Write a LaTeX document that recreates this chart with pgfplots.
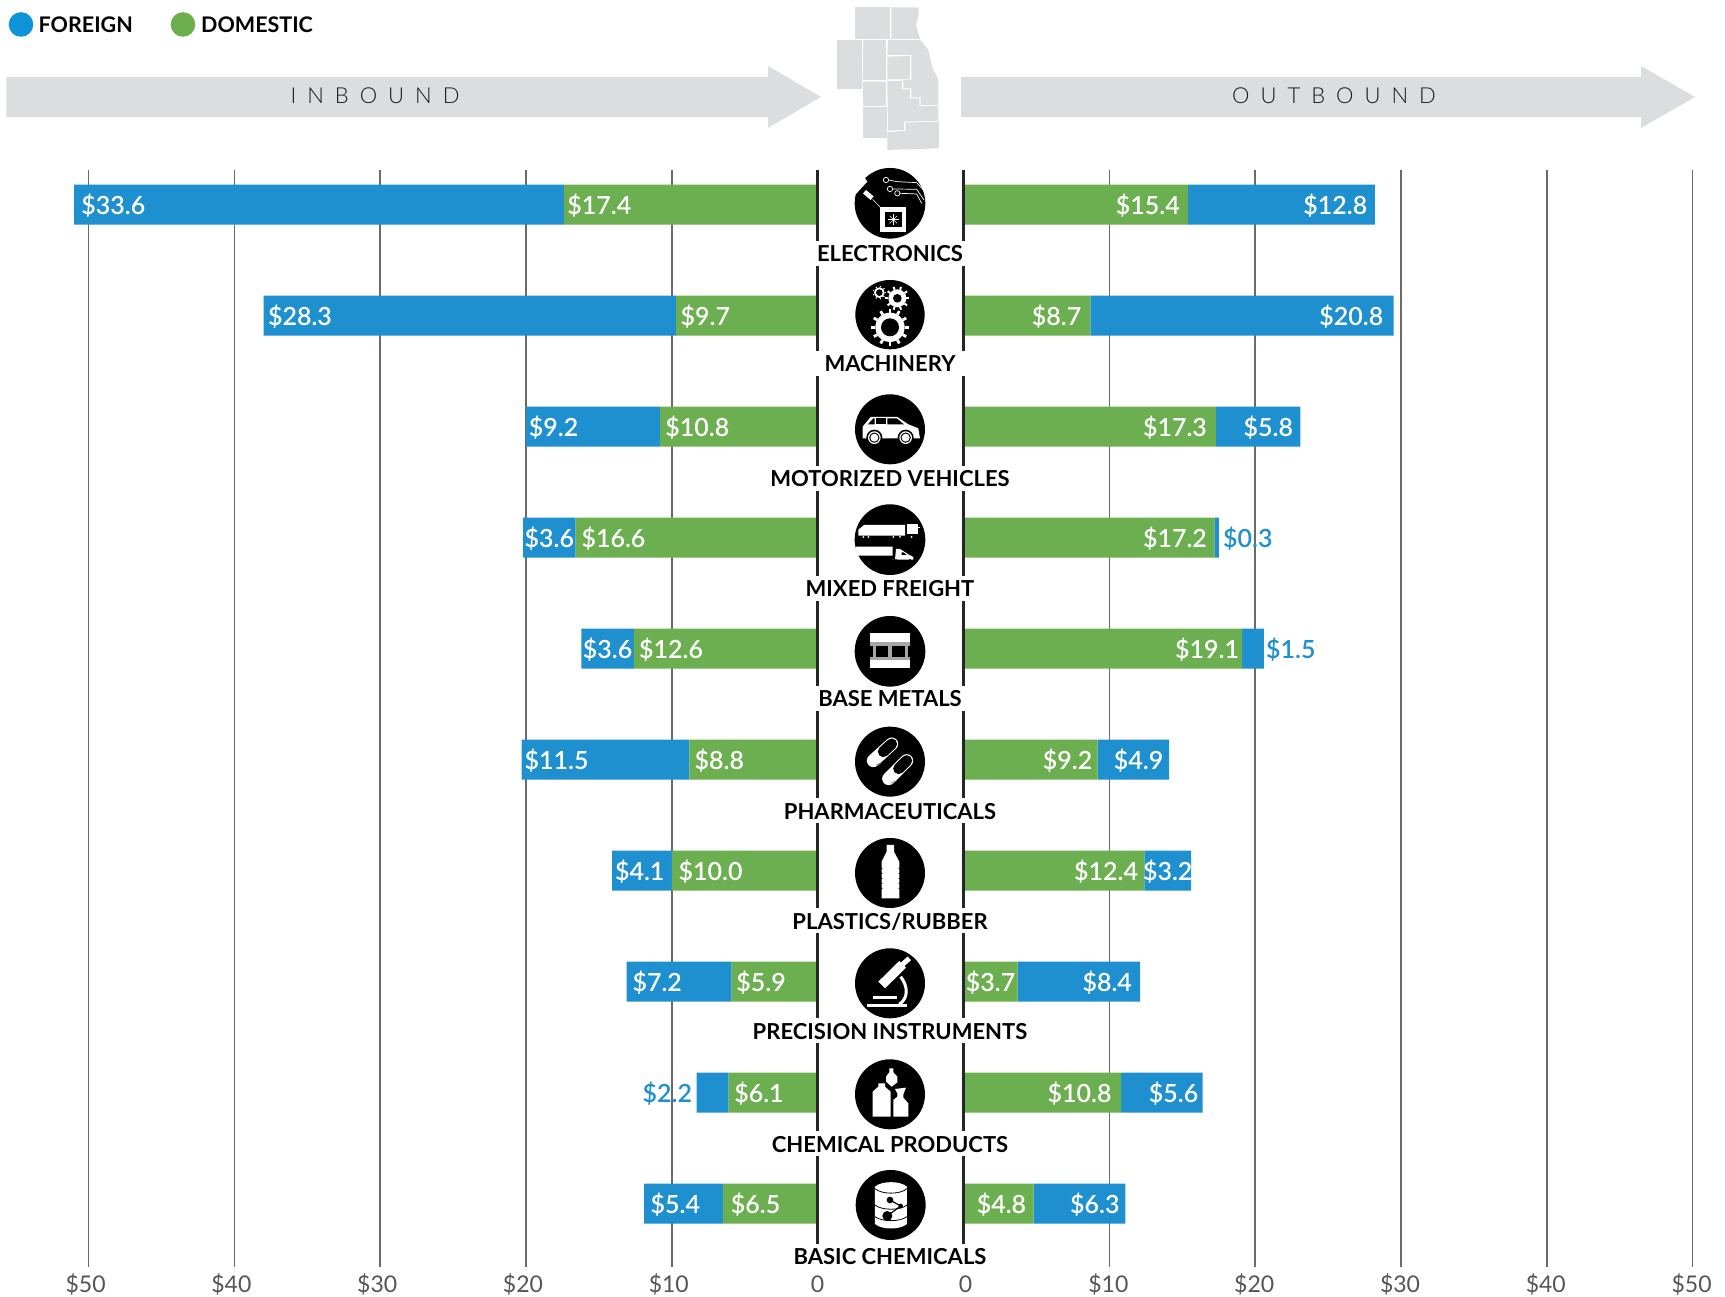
\documentclass[border=0pt]{standalone}
\usepackage{fontspec}
\usepackage{pgfplots}
\pgfplotsset{compat=1.18}
\setmainfont{Lato}
\newfontfamily\lightwide[LetterSpace=50]{Lato Light}
\newfontfamily\medium{Lato Semibold}
\definecolor{fblue}{HTML}{1E8FCF}
\definecolor{dgreen}{HTML}{6CAF50}
\definecolor{lblue}{HTML}{0E93D8}
\definecolor{lgreen}{HTML}{6BB04C}
\definecolor{arrowgrey}{HTML}{DCDDDF}
\definecolor{gridgrey}{HTML}{6A6A6A}
\definecolor{ticktext}{HTML}{555555}
\newcommand\barfont{\fontsize{25}{25}\selectfont\medium}
\newcommand\vl[3]{\node[white,font=\barfont,anchor=base,yshift=-10pt] at (axis cs:#1,#2) {\$#3};}
\newcommand\vb[3]{\node[fblue,font=\barfont,anchor=base,yshift=-10pt] at (axis cs:#1,#2) {\$#3};}
\newcommand\cat[2]{\node[black,font=\fontsize{22}{22}\selectfont\bfseries,anchor=base] at (890,#1+8.5) {#2};}
\newcommand\icon[2]{\begin{scope}[shift={(#1,#2)},x=.3333pt,y=-.3333pt]}
\newcommand\gear[7]{\begin{scope}[shift={(#1,#2)}]
  \fill[white] (0,0) circle (#4);
  \foreach \a in {0,#7,...,359}{\draw[white,line width=#6] (\a:#4) -- (\a:#3);}
  \fill[black] (0,0) circle (#5);
\end{scope}}
\pgfplotsset{base/.style={
  scale only axis,width=729pt,height=1097pt,
  xmin=0,xmax=50,ymin=-0.312,ymax=9.571,y dir=reverse,
  clip=false,
  axis line style={draw=none},tick style={draw=none},
  ytick=\empty,
  unbounded coords=jump,
},
bars/.style={base,
  xbar stacked,bar width=40pt,
  xtick={10,20,30,40,50},
  xticklabels={\$10,\$20,\$30,\$40,\$50},
  xmajorgrids,major grid style={draw=gridgrey,line width=1.5pt},
  extra x ticks={0},extra x tick labels={0},
  extra x tick style={grid=none,xticklabel style={xshift=3pt}},
  xticklabel pos=lower,
  xticklabel style={font=\fontsize{23}{23}\selectfont,text=ticktext,text height=17pt,text depth=3pt,yshift=-5pt},
},
zeroline/.style={base,xtick=\empty}}
\begin{document}
\begin{tikzpicture}
\path[use as bounding box] (0,0) rectangle (1725pt,1297pt);
\begin{scope}[shift={(0pt,1297pt)},x=1pt,y=-1pt]
  \fill[lblue] (21,24.5) circle (12.3);
  \fill[lgreen] (183,24.5) circle (12.3);
  \node[anchor=base west,inner sep=0pt,font=\fontsize{21.5}{21.5}\selectfont\bfseries] at (38.5,33) {FOREIGN};
  \node[anchor=base west,inner sep=0pt,font=\fontsize{21.5}{21.5}\selectfont\bfseries] at (201,33) {DOMESTIC};
  \fill[arrowgrey] (6.4,77)--(768,77)--(768,66)--(821,97)--(768,128)--(768,117)--(6.4,117)--cycle;
  \fill[arrowgrey] (961,77)--(1641,77)--(1641,66)--(1695,97)--(1641,128)--(1641,117)--(961,117)--cycle;
  \node[text=black!90,font=\fontsize{22}{22}\selectfont\lightwide,anchor=base] at (375,104) {INBOUND};
  \node[text=black!90,font=\fontsize{22}{22}\selectfont\lightwide,anchor=base] at (1334,104) {OUTBOUND};
  \begin{scope}[shift={(780,0)},x=.3333pt,y=-.3333pt,arrowgrey]
    \fill (224,22)--(330,22)--(330,117)--(224,117)--cycle;
    \fill (334,22)--(416,22)--(416,45)--(408,75)--(420,117)--(334,117)--cycle;
    \fill (172,120)--(245,120)--(245,268)--(172,268)--cycle;
    \fill (250,120)--(318,120)--(318,240)--(248,240)--cycle;
    \fill (324,120)--(420,120)--(445,150)--(458,205)--(475,240)--(475,315)--(422,315)--(422,292)--(394,292)--(394,265)--(370,265)--(370,240)--(394,240)--(394,165)--(322,165)--cycle;
    \fill (322,170)--(390,168)--(390,238)--(322,238)--cycle;
    \fill (248,245)--(318,245)--(318,318)--(250,318)--cycle;
    \fill (322,243)--(366,243)--(366,268)--(390,268)--(390,295)--(418,295)--(418,318)--(475,318)--(475,362)--(372,365)--(372,390)--(324,392)--cycle;
    \fill (250,322)--(320,322)--(320,415)--(250,415)--cycle;
    \fill (376,368)--(477,365)--(477,445)--(322,450)--(322,396)--(376,393)--cycle;
  \end{scope}
\end{scope}

% INBOUND
\begin{axis}[bars,x dir=reverse,at={(453.1pt,578.5pt)},anchor=center,xticklabel style={xshift=-3pt}]
\addplot[fill=dgreen,draw=none] coordinates {(17.4,0) (9.7,1) (10.8,2) (16.6,3) (12.6,4) (8.8,5) (10.0,6) (5.9,7) (6.1,8) (6.5,9)};
\addplot[fill=fblue,draw=none] coordinates {(33.6,0) (28.3,1) (9.2,2) (3.6,3) (3.6,4) (11.5,5) (4.1,6) (7.2,7) (2.2,8) (5.4,9)};
\end{axis}
\begin{axis}[zeroline,x dir=reverse,at={(453.1pt,578.5pt)},anchor=center]
\addplot[black!85,line width=2.6pt,forget plot] coordinates {(0,-0.312)(0,0.323)(nan,nan)(0,0.549)(0,1.314)(nan,nan)(0,1.540)(0,2.355)(nan,nan)(0,2.580)(0,3.346)(nan,nan)(0,3.571)(0,4.337)(nan,nan)(0,4.562)(0,5.350)(nan,nan)(0,5.575)(0,6.341)(nan,nan)(0,6.566)(0,7.332)(nan,nan)(0,7.557)(0,8.350)(nan,nan)(0,8.575)(0,9.360)};
\vl{48.3}{0}{33.6}\vl{14.97}{0}{17.4}
\vl{35.5}{1}{28.3}\vl{7.7}{1}{9.7}
\vl{18.1}{2}{9.2}\vl{8.25}{2}{10.8}
\vl{18.4}{3}{3.6}\vl{14.0}{3}{16.6}
\vl{14.4}{4}{3.6}\vl{10.05}{4}{12.6}
\vl{17.9}{5}{11.5}\vl{6.74}{5}{8.8}
\vl{12.2}{6}{4.1}\vl{7.34}{6}{10.0}
\vl{11.0}{7}{7.2}\vl{3.87}{7}{5.9}
\vb{10.3}{8}{2.2}\vl{4.02}{8}{6.1}
\vl{9.76}{9}{5.4}\vl{4.25}{9}{6.5}
\end{axis}

% OUTBOUND
\begin{axis}[bars,at={(1328.1pt,578.5pt)},anchor=center,xticklabel style={xshift=-1pt}]
\addplot[fill=dgreen,draw=none] coordinates {(15.4,0) (8.7,1) (17.3,2) (17.2,3) (19.1,4) (9.2,5) (12.4,6) (3.7,7) (10.8,8) (4.8,9)};
\addplot[fill=fblue,draw=none] coordinates {(12.8,0) (20.8,1) (5.8,2) (0.3,3) (1.5,4) (4.9,5) (3.2,6) (8.4,7) (5.6,8) (6.3,9)};
\end{axis}
\begin{axis}[zeroline,at={(1328.1pt,578.5pt)},anchor=center]
\addplot[black!85,line width=2.6pt,forget plot] coordinates {(0,-0.312)(0,0.323)(nan,nan)(0,0.549)(0,1.314)(nan,nan)(0,1.540)(0,2.355)(nan,nan)(0,2.580)(0,3.346)(nan,nan)(0,3.571)(0,4.337)(nan,nan)(0,4.562)(0,5.350)(nan,nan)(0,5.575)(0,6.341)(nan,nan)(0,6.566)(0,7.332)(nan,nan)(0,7.557)(0,8.350)(nan,nan)(0,8.575)(0,9.360)};
\vl{12.64}{0}{15.4}\vl{25.5}{0}{12.8}
\vl{6.38}{1}{8.7}\vl{26.6}{1}{20.8}
\vl{14.5}{2}{17.3}\vl{20.9}{2}{5.8}
\vl{14.5}{3}{17.2}\vb{19.5}{3}{0.3}
\vl{16.7}{4}{19.1}\vb{22.45}{4}{1.5}
\vl{7.13}{5}{9.2}\vl{12.0}{5}{4.9}
\vl{9.77}{6}{12.4}\vl{14.0}{6}{3.2}
\vl{1.85}{7}{3.7}\vl{9.85}{7}{8.4}
\vl{7.96}{8}{10.8}\vl{14.4}{8}{5.6}
\vl{2.6}{9}{4.8}\vl{9.0}{9}{6.3}
\end{axis}

\begin{scope}[shift={(0pt,1297pt)},x=1pt,y=-1pt]
\cat{253}{ELECTRONICS}
\cat{363}{MACHINERY}
\cat{478.5}{MOTORIZED VEHICLES}
\cat{588.5}{MIXED FREIGHT}
\cat{698.5}{BASE METALS}
\cat{811}{PHARMACEUTICALS}
\cat{921}{PLASTICS/RUBBER}
\cat{1031}{PRECISION INSTRUMENTS}
\cat{1144}{CHEMICAL PRODUCTS}
\cat{1256}{BASIC CHEMICALS}

% electronics
\icon{780}{0}
 \fill[black] (330,610) circle (106);
 \fill[white] (215,570)--(252,530)--(262,545)--(228,582)--cycle;
 \fill[white,rotate around={-40:(265,585)}] (250,578) rectangle (280,592);
 \draw[white,line width=.5pt] (278,598)--(310,632);
 \fill[white] (300,622) rectangle (378,695);
 \fill[black] (314,636) rectangle (365,682);
 \foreach \a in {0,45,...,315}{\draw[white,line width=.5pt] (340,659)--++(\a:16);}
 \draw[white,line width=.7pt] (318,540) circle (8) (330,567) circle (8) (352,580) circle (8);
 \draw[white,line width=.7pt] (326,540)--(350,545)--(410,548)--(430,570);
 \draw[white,line width=.7pt] (338,567)--(410,568)--(432,600);
 \draw[white,line width=.7pt] (360,580)--(410,582)--(425,610);
\end{scope}
% machinery
\icon{840}{270}
 \fill[black] (150,134) circle (104);
 \gear{150}{172}{56}{44}{27}{2.8pt}{30}
 \gear{172}{85}{36}{27}{13}{2pt}{36}
 \gear{118}{68}{20}{16}{10}{1pt}{40}
\end{scope}
% car
\icon{840}{385}
 \fill[black] (150,133) circle (105);
 \fill[white] (68,160)--(68,125)--(92,96)--(172,96)--(205,118)--(235,130)--(240,160)--cycle;
 \fill[black] (84,118)--(100,100)--(104,100)--(104,118)--cycle;
 \fill[black] (108,100)--(138,100)--(138,118)--(108,118)--cycle;
 \fill[black] (142,100)--(170,100)--(192,118)--(142,118)--cycle;
 \foreach \c in {103,197}{
  \fill[black] (\c,158) circle (24);
  \fill[white] (\c,158) circle (19);
  \fill[black] (\c,158) circle (15.5);
  \fill[white] (\c,158) circle (12);}
\end{scope}
% freight
\icon{840}{495}
 \fill[black] (150,134) circle (106);
 \fill[white] (55,122)--(55,104)--(72,90)--(195,90)--(195,122)--cycle;
 \fill[white] (200,88) rectangle (235,118);
 \fill[white] (235,95) rectangle (240,100);
 \foreach \c in {70,85,160,180,215}{\fill[white] (\c,126) circle (3);}
 \fill[white] (46,155)--(158,155)--(158,182)--(52,182)--cycle;
 \fill[white] (168,162)--(180,162)--(205,178)--(220,186)--(220,194)--(165,194)--cycle;
 \fill[black] (185,172)--(190,172)--(200,180)--(185,180)--cycle;
 \foreach \c in {158,168,210}{\fill[black!80] (\c,194) circle (3);}
\end{scope}
% metals
\icon{840}{610}
 \fill[black] (150,124) circle (106);
 \fill[white] (90,70) rectangle (210,96);
 \fill[white] (90,150) rectangle (210,175);
 \fill[black!35] (90,97) rectangle (210,109);
 \fill[black!35] (90,140) rectangle (210,150);
 \foreach \c in {103,150,200}{\fill[black!35] (\c-5,105) rectangle (\c+5,145);}
\end{scope}
% pharma
\icon{840}{720}
 \fill[black] (150,125) circle (105);
 \draw[white,line width=13pt,line cap=round] (100,122)--(155,72);
 \draw[black,line width=11pt,line cap=round] (130,95)--(155,72);
 \draw[white,line width=13pt,line cap=round] (146,176)--(200,122);
 \draw[black,line width=11pt,line cap=round] (176,146)--(200,122);
 \draw[black!45,line width=.8pt] (108,136)--(124,128);
 \draw[black!45,line width=.8pt] (152,190)--(170,182);
\end{scope}
% bottle
\icon{840}{830}
 \fill[black] (150,129) circle (105);
 \fill[white] (140,45)--(162,45)--(162,65)--(178,95)--(178,205)--(125,205)--(125,95)--(140,65)--cycle;
 \foreach \yy in {115,130,145,160,175}{\fill[black] (125,\yy) circle (2.5);\fill[black] (178,\yy) circle (2.5);}
\end{scope}
% microscope
\icon{840}{945}
 \fill[black] (150,115) circle (105);
 \draw[white,line width=9.5pt] (125,120)--(188,58);
 \draw[white,line width=5pt] (188,58)--(208,40);
 \draw[black,line width=.7pt] (115,113)--(134,131);
 \draw[white,line width=3pt] (182,95) .. controls (205,125) and (205,160) .. (178,178);
 \draw[white,line width=3.4pt] (100,158)--(170,158);
 \fill[white] (80,176) rectangle (200,186);
\end{scope}
% chemical products
\icon{840}{1055}
 \fill[black] (150,118) circle (105);
 \fill[white] (98,185)--(98,110)--(115,95)--(115,85)--(135,85)--(135,95)--(152,110)--(152,185)--cycle;
 \fill[white] (148,40)--(160,40)--(160,52)--(172,65)--(172,82)--(155,95)--(138,80)--(138,65)--(148,52)--cycle;
 \fill[white] (160,185)--(160,135)--(172,125)--(172,115)--(165,102)--(198,98)--(190,118)--(190,128)--(205,145)--(205,185)--cycle;
\end{scope}
% basic chemicals
\icon{780}{1150}
 \fill[black] (332,165) circle (105);
 \fill[white] (285,110) -- (285,222) .. controls (305,240) and (361,240) .. (381,222) -- (381,110) .. controls (361,92) and (305,92) .. (285,110) -- cycle;
 \draw[black,line width=.8pt] (285,116) .. controls (305,134) and (361,134) .. (381,116);
 \draw[black,line width=.8pt] (285,165) .. controls (305,182) and (361,182) .. (381,165);
 \draw[black,line width=.8pt] (285,200) .. controls (305,216) and (361,216) .. (381,200);
 \draw[black,line width=1.2pt] (330,150)--(362,168)--(322,198);
 \fill[black] (330,150) circle (10) (322,198) circle (15) (362,168) circle (7);
\end{scope}
\end{scope}
\end{tikzpicture}
\end{document}
